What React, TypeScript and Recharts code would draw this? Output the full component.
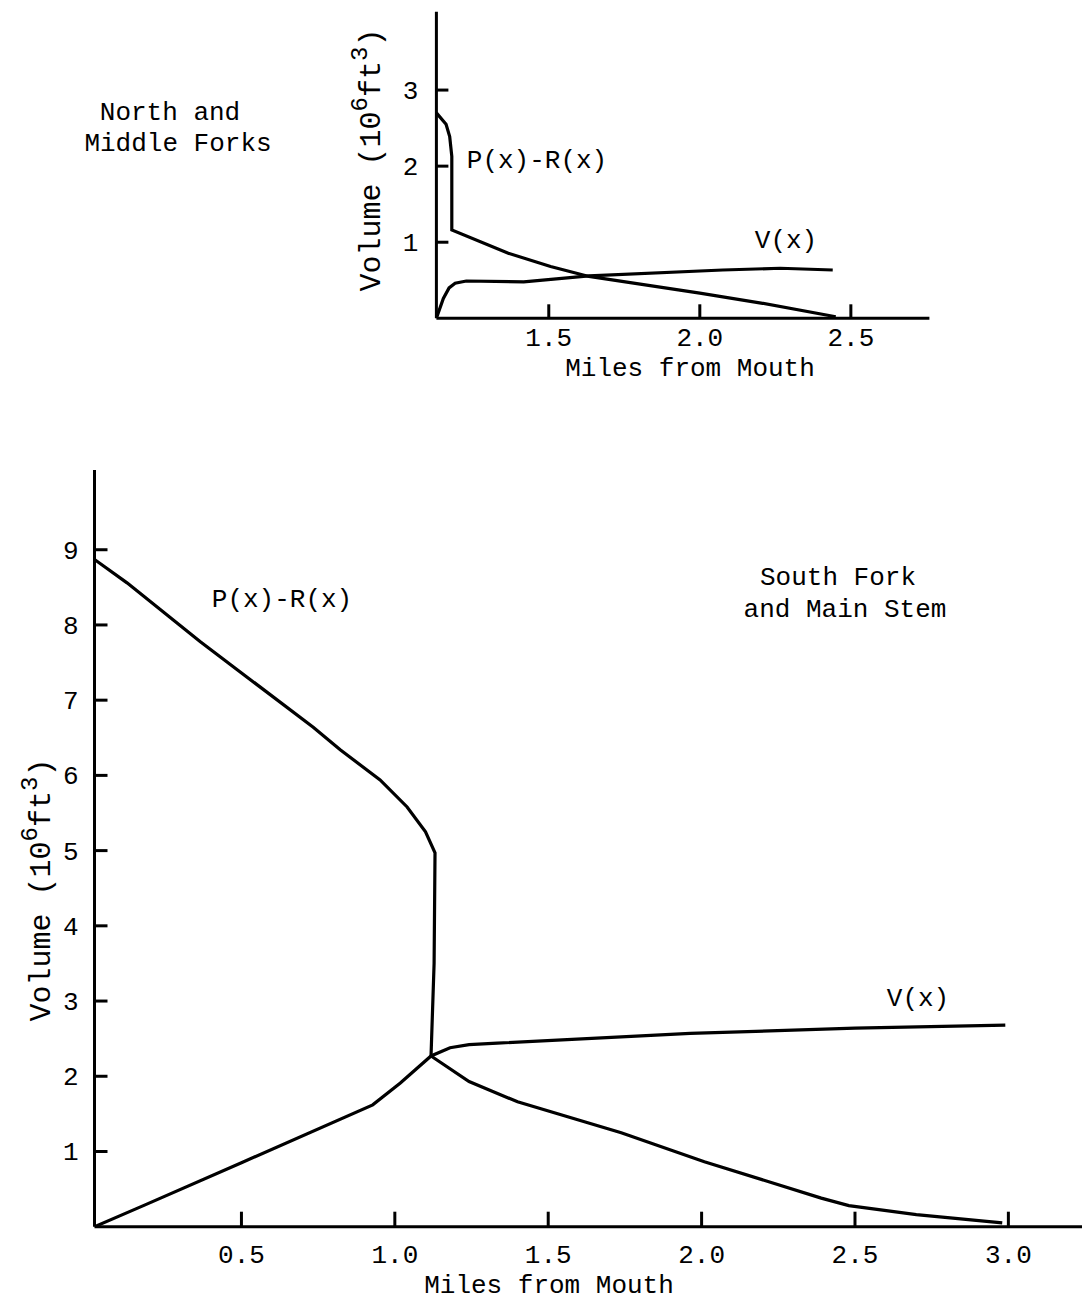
import { LineChart, Line, XAxis, YAxis } from "recharts";

// South Fork and Main Stem
const southPRx = [0.021, 0.127, 0.365, 0.734, 0.822, 0.952, 1.04, 1.1, 1.131, 1.128, 1.118, 1.242, 1.4, 1.738, 2.009, 2.39, 2.48, 2.7, 2.98];
const southPRy = [8.87, 8.56, 7.78, 6.64, 6.34, 5.94, 5.58, 5.25, 4.97, 3.5, 2.27, 1.93, 1.66, 1.25, 0.864, 0.38, 0.28, 0.16, 0.05];
const southVx = [0.021, 0.186, 0.5, 0.928, 1.018, 1.118, 1.18, 1.242, 1.334, 1.963, 2.5, 2.99];
const southVy = [0, 0.29, 0.85, 1.62, 1.91, 2.27, 2.38, 2.42, 2.44, 2.57, 2.64, 2.68];

// North and Middle Forks
const northPRx = [1.128, 1.16, 1.172, 1.179, 1.179, 1.366, 1.506, 1.633, 2.0, 2.203, 2.45];
const northPRy = [2.7, 2.55, 2.39, 2.13, 1.16, 0.855, 0.68, 0.55, 0.33, 0.2, 0.02];
const northVx = [1.128, 1.151, 1.17, 1.19, 1.227, 1.417, 1.633, 2.076, 2.266, 2.44];
const northVy = [0, 0.26, 0.4, 0.46, 0.49, 0.48, 0.557, 0.635, 0.658, 0.635];

const southXTicks = [0.5, 1.0, 1.5, 2.0, 2.5, 3.0];
const southYTicks = [1, 2, 3, 4, 5, 6, 7, 8, 9];
const northXTicks = [1.5, 2.0, 2.5];
const northYTicks = [1, 2, 3];

const pts = (xs: number[], ys: number[]) => xs.map((x, i) => ({ x, y: ys[i] }));

const FONT = "'Liberation Mono', 'DejaVu Sans Mono', monospace";
const TM = 10;

const XTick = (props: any) => {
  const { x, y, payload, len, off } = props;
  const ay = y - TM;
  return (
    <g>
      <line x1={x} y1={ay} x2={x} y2={ay - len} stroke="#000" strokeWidth={3} />
      <text x={x} y={ay + off} textAnchor="middle" fontFamily={FONT} fontSize={26} fill="#000">
        {Number(payload.value).toFixed(1)}
      </text>
    </g>
  );
};

const YTick = (props: any) => {
  const { x, y, payload, len, off } = props;
  const ax = x + TM;
  return (
    <g>
      <line x1={ax} y1={y} x2={ax + len} y2={y} stroke="#000" strokeWidth={3} />
      <text x={ax - off} y={y + 9} textAnchor="end" fontFamily={FONT} fontSize={26} fill="#000">
        {payload.value}
      </text>
    </g>
  );
};

const axisLine = { stroke: "#000", strokeWidth: 3 };

const VolLabel = ({ x, y }: { x: number; y: number }) => (
  <text
    x={x}
    y={y}
    transform={`rotate(-90 ${x} ${y})`}
    textAnchor="middle"
    fontFamily={FONT}
    fontSize={30}
    fill="#000"
  >
    Volume (10
    <tspan dy={-13} fontSize={24}>6</tspan>
    <tspan dy={13}>ft</tspan>
    <tspan dy={-13} fontSize={24}>3</tspan>
    <tspan dy={13}>)</tspan>
  </text>
);

export default function App() {
  const txt = { fontFamily: FONT, fontSize: 26, fill: "#000", textAnchor: "middle" as const };
  const lineProps = { dataKey: "y", type: "linear" as const, stroke: "#000", strokeWidth: 3.2, dot: false, isAnimationActive: false };
  return (
    <div style={{ position: "absolute", left: 0, top: 0, width: 1082, height: 1300, background: "#fff" }}>
      <div style={{ position: "absolute", left: 0, top: 0 }}>
        <LineChart width={1082} height={400} margin={{ left: 435.4, right: 152.6, top: 11.7, bottom: 80.7 }}>
          <XAxis
            type="number"
            dataKey="x"
            domain={[1.128, 2.76]}
            ticks={northXTicks}
            interval={0}
            allowDataOverflow
            height={1}
            tickSize={0}
            tickMargin={TM}
            tickLine={false}
            axisLine={axisLine}
            tick={<XTick len={14} off={28} />}
          />
          <YAxis
            type="number"
            dataKey="y"
            domain={[0, 4.03]}
            ticks={northYTicks}
            interval={0}
            allowDataOverflow
            width={1}
            tickSize={0}
            tickMargin={TM}
            tickLine={false}
            axisLine={axisLine}
            tick={<YTick len={12} off={18} />}
          />
          <Line data={pts(northPRx, northPRy)} {...lineProps} />
          <Line data={pts(northVx, northVy)} {...lineProps} />
        </LineChart>
      </div>
      <div style={{ position: "absolute", left: 0, top: 420 }}>
        <LineChart width={1082} height={880} margin={{ left: 93.5, right: 0, top: 50, bottom: 72.3 }}>
          <XAxis
            type="number"
            dataKey="x"
            domain={[0.021, 3.24]}
            ticks={southXTicks}
            interval={0}
            allowDataOverflow
            height={1}
            tickSize={0}
            tickMargin={TM}
            tickLine={false}
            axisLine={axisLine}
            tick={<XTick len={15} off={36} />}
          />
          <YAxis
            type="number"
            dataKey="y"
            domain={[0, 10.06]}
            ticks={southYTicks}
            interval={0}
            allowDataOverflow
            width={1}
            tickSize={0}
            tickMargin={TM}
            tickLine={false}
            axisLine={axisLine}
            tick={<YTick len={13} off={16} />}
          />
          <Line data={pts(southPRx, southPRy)} {...lineProps} />
          <Line data={pts(southVx, southVy)} {...lineProps} />
        </LineChart>
      </div>
      <svg width={1082} height={1300} style={{ position: "absolute", left: 0, top: 0, pointerEvents: "none" }}>
        <text x={170} y={120} {...txt}>North and</text>
        <text x={178} y={151} {...txt}>Middle Forks</text>
        <text x={537} y={168} {...txt}>P(x)-R(x)</text>
        <text x={786} y={248} {...txt}>V(x)</text>
        <VolLabel x={380} y={160} />
        <text x={690} y={376} {...txt}>Miles from Mouth</text>

        <text x={282} y={607} {...txt}>P(x)-R(x)</text>
        <text x={838} y={585} {...txt}>South Fork</text>
        <text x={845} y={617} {...txt}>and Main Stem</text>
        <text x={918} y={1006} {...txt}>V(x)</text>
        <VolLabel x={50} y={890} />
        <text x={549} y={1293} {...txt}>Miles from Mouth</text>
      </svg>
    </div>
  );
}
